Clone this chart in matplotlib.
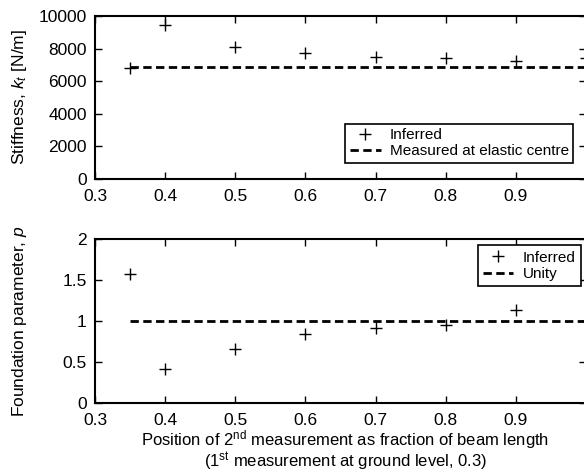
import matplotlib
matplotlib.use('Agg')
import matplotlib.pyplot as plt
import numpy as np

# positions of the 2nd measurement (fraction of beam length)
position = [0.35, 0.4, 0.5, 0.6, 0.7, 0.8, 0.9, 1.0]
# inferred stiffness k_t [N/m]
stiffness = [6830, 9460, 8090, 7730, 7480, 7440, 7230, 7400]
stiffness_measured = 6900
# inferred foundation parameter p
foundation = [1.57, 0.41, 0.66, 0.84, 0.91, 0.95, 1.13, 1.0]
unity = 1.0

x_ticks = [0.3, 0.4, 0.5, 0.6, 0.7, 0.8, 0.9]
k_ticks = [0, 2000, 4000, 6000, 8000, 10000]
p_ticks = [0, 0.5, 1, 1.5, 2]
p_tick_labels = ['0', '0.5', '1', '1.5', '2']


def style_axes(ax):
    for sp in ax.spines.values():
        sp.set_linewidth(1.5)
    ax.tick_params(direction='in', top=True, right=True, length=5, width=1,
                   labelsize=12.5)
    ax.tick_params(axis='x', pad=7)
    ax.tick_params(axis='y', pad=6)


plt.rcParams['font.family'] = ['Liberation Sans', 'DejaVu Sans']
plt.rcParams['mathtext.fontset'] = 'custom'
plt.rcParams['mathtext.rm'] = 'Liberation Sans'
plt.rcParams['mathtext.it'] = 'Liberation Sans:italic'

fig = plt.figure(figsize=(5.84, 4.72), dpi=100)
left, right = 0.163, 1.003
ax1 = fig.add_axes([left, 0.621, right - left, 0.966 - 0.621])
ax2 = fig.add_axes([left, 0.146, right - left, 0.494 - 0.146])

dash = (0, (3.0, 1.6))
line_x = [position[0], position[-1] + 0.05]

#
# Stiffness
#
ax1.plot(position, stiffness, '+', color='k', markersize=9, mew=1.0, label='Inferred')
ax1.plot(line_x, [stiffness_measured] * 2, color='k', lw=2, linestyle=dash,
         label='Measured at elastic centre')
ax1.set_xlim(0.3, 1.0)
ax1.set_ylim(0, 10000)
ax1.set_xticks(x_ticks)
ax1.set_yticks(k_ticks)
ax1.set_ylabel(r'Stiffness, $k_t$ [N/m]', fontsize=12.5)
ax1.yaxis.set_label_coords(-0.135, 0.5)
style_axes(ax1)
leg1 = ax1.legend(loc='lower right', bbox_to_anchor=(0.975, 0.1), fontsize=11,
                  fancybox=False, edgecolor='k', framealpha=1, handlelength=2.0,
                  borderpad=0.3, labelspacing=0.1, handletextpad=0.6,
                  borderaxespad=0)
leg1.get_frame().set_linewidth(1.2)

#
# Foundation parameter
#
ax2.plot(position, foundation, '+', color='k', markersize=9, mew=1.0, label='Inferred')
ax2.plot(line_x, [unity] * 2, color='k', lw=2, linestyle=dash, label='Unity')
ax2.set_xlim(0.3, 1.0)
ax2.set_ylim(0, 2)
ax2.set_xticks(x_ticks)
ax2.set_yticks(p_ticks)
ax2.set_yticklabels(p_tick_labels)
ax2.set_ylabel(r'Foundation parameter, $p$', fontsize=12.5)
ax2.yaxis.set_label_coords(-0.135, 0.5)
ax2.set_xlabel('Position of 2$^{\\mathrm{nd}}$ measurement as fraction of beam length\n'
               '(1$^{\\mathrm{st}}$ measurement at ground level, 0.3)',
               fontsize=12, linespacing=0.95)
ax2.xaxis.set_label_coords(0.51, -0.155)
ax2.xaxis.label.set_va('top')
style_axes(ax2)
leg2 = ax2.legend(loc='upper right', bbox_to_anchor=(0.99, 0.96), fontsize=11,
                  fancybox=False, edgecolor='k', framealpha=1, handlelength=2.0,
                  borderpad=0.35, labelspacing=0.15, handletextpad=0.6,
                  borderaxespad=0)
leg2.get_frame().set_linewidth(1.2)

fig.savefig('out.png', dpi=100)
